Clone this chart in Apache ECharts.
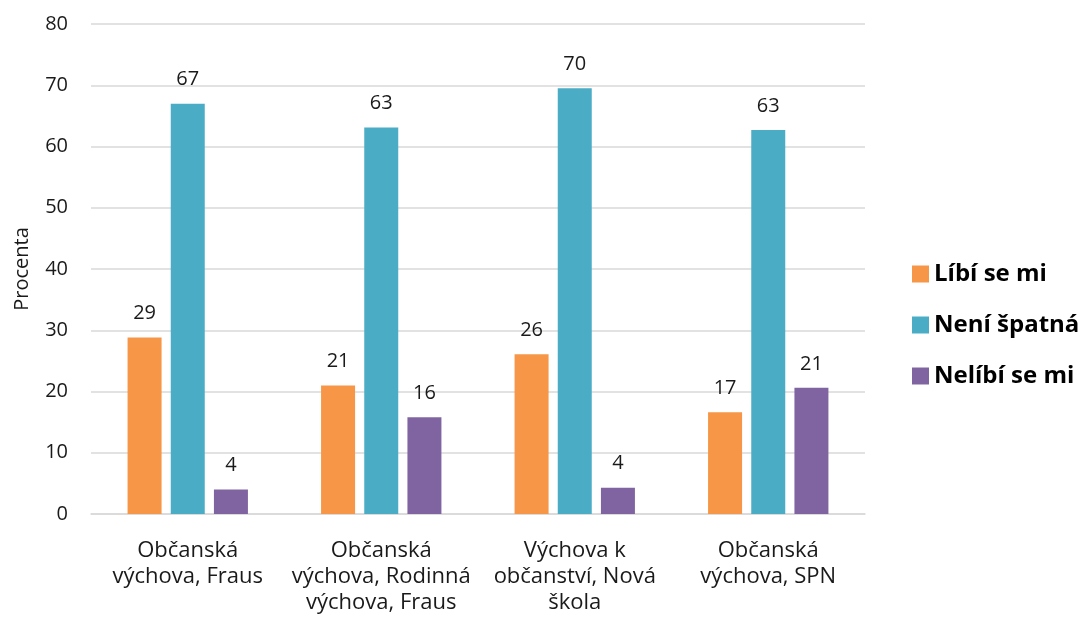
<!DOCTYPE html>
<html>
<head>
<meta charset="utf-8">
<script src="https://cdn.jsdelivr.net/npm/echarts@6/dist/echarts.min.js"></script>
<style>
  html, body { margin: 0; padding: 0; background: #fff; }
  #graph { width: 1080px; height: 627px; }
</style>
</head>
<body>
<div id="graph"></div>
<script>
var categories = [
    'Občanská\nvýchova, Fraus',
    'Občanská\nvýchova, Rodinná\nvýchova, Fraus',
    'Výchova k\nobčanství, Nová\nškola',
    'Občanská\nvýchova, SPN'
];
var seriesNames = ['Líbí se mi', 'Není špatná', 'Nelíbí se mi'];
var libi = [28.8, 21.0, 26.1, 16.6];
var neniSpatna = [67.0, 63.1, 69.5, 62.7];
var nelibi = [4.0, 15.8, 4.3, 20.6];
var yTicks = [0, 10, 20, 30, 40, 50, 60, 70, 80];

var colors = ['#F79646', '#4BACC6', '#8064A2'];
var font = '"Open Sans", sans-serif';

function makeSeries(name, data, color) {
    return {
        name: name,
        type: 'bar',
        data: data,
        barWidth: 34,
        barGap: '27%',
        itemStyle: { color: color },
        label: {
            show: true,
            position: 'top',
            distance: 14,
            fontFamily: font,
            fontSize: 20,
            color: '#1a1a1a',
            formatter: function (p) { return Math.round(p.value); }
        }
    };
}

var option = {
    animation: false,
    textStyle: { fontFamily: font },
    grid: { left: 91, top: 24, width: 774, height: 490 },
    legend: {
        orient: 'vertical',
        left: 907,
        top: 257,
        itemWidth: 17,
        itemHeight: 17,
        itemGap: 27,
        icon: 'rect',
        data: seriesNames,
        textStyle: { fontFamily: font, fontSize: 24, fontWeight: 'bold', color: '#000' }
    },
    xAxis: {
        type: 'category',
        data: categories,
        axisLine: { lineStyle: { color: '#d9d9d9', width: 1.5 } },
        axisTick: { show: false },
        axisLabel: {
            interval: 0,
            margin: 24,
            fontFamily: font,
            fontSize: 22,
            lineHeight: 26,
            color: '#1a1a1a'
        }
    },
    yAxis: {
        type: 'value',
        min: yTicks[0],
        max: yTicks[yTicks.length - 1],
        interval: 10,
        name: 'Procenta',
        nameLocation: 'middle',
        nameGap: 59,
        nameTextStyle: { fontFamily: font, fontSize: 20, color: '#1a1a1a' },
        axisLine: { show: false },
        axisTick: { show: false },
        axisLabel: { margin: 23, fontFamily: font, fontSize: 20, color: '#1a1a1a' },
        splitLine: { lineStyle: { color: '#d9d9d9', width: 1.5 } }
    },
    series: [
        makeSeries(seriesNames[0], libi, colors[0]),
        makeSeries(seriesNames[1], neniSpatna, colors[1]),
        makeSeries(seriesNames[2], nelibi, colors[2])
    ]
};

var chart = echarts.init(document.getElementById('graph'));
chart.setOption(option);
</script>
</body>
</html>
